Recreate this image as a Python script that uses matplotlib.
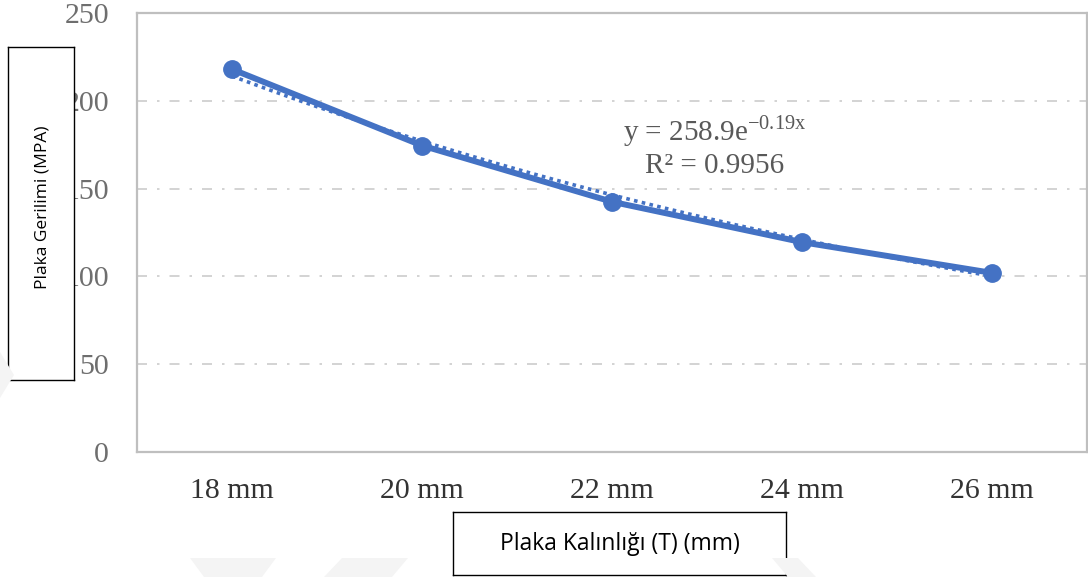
import numpy as np
import matplotlib.pyplot as plt
from matplotlib.patches import Polygon

plt.rcParams['mathtext.fontset'] = 'custom'
plt.rcParams['mathtext.rm'] = 'Liberation Serif'

# plate thickness categories and plate stress (MPa)
thickness_labels = ["18 mm", "20 mm", "22 mm", "24 mm", "26 mm"]
stress = [218, 174.5, 142.5, 119.5, 102]

# exponential trendline parameters y = a * exp(b * x)
trend_a = 258.9
trend_b = -0.19
trend_r2 = 0.9956

y_ticks = [0, 50, 100, 150, 200, 250]

W, H = 1088, 577
fig = plt.figure(figsize=(W / 100, H / 100), dpi=100)
fig.patch.set_facecolor("white")

def px(x, y):
    return (x / W, 1 - y / H)

# faint background shapes
shade = "#f4f4f4"
for pts in [
    [(0, 352), (14, 375), (0, 398)],
    [(190, 558), (276, 558), (262, 577), (204, 577)],
    [(342, 558), (408, 558), (392, 577), (324, 577)],
    [(772, 558), (798, 558), (816, 577), (788, 577)],
]:
    fig.patches.append(Polygon([px(*p) for p in pts], closed=True,
                               transform=fig.transFigure, facecolor=shade,
                               edgecolor="none", zorder=0))

ax = fig.add_axes([137 / W, 1 - 452 / H, 950 / W, 439 / H])
x = np.arange(len(stress))

for yv in y_ticks[1:-1]:
    ax.axhline(yv, color="#cccccc", lw=1.2, dashes=(6, 6, 1.5, 6), zorder=1)

xt = np.linspace(0, len(stress) - 1, 100)
ax.plot(xt, trend_a * np.exp(trend_b * (xt + 1)), color="#4472C4", lw=2.6,
        linestyle=(0, (1, 1.2)), zorder=2)
ax.plot(x, stress, color="#4472C4", lw=4.3, marker="o", markersize=12.5, zorder=3)

ax.set_xlim(-0.5, len(stress) - 0.5)
ax.set_ylim(0, 250)
ax.set_xticks(x)
ax.set_xticklabels(thickness_labels, family="Liberation Serif", fontsize=21.5,
                   color="#333333")
ax.set_yticks(y_ticks)
ax.set_yticklabels([str(v) for v in y_ticks], family="Liberation Serif",
                   fontsize=21.5, color="#6e6e6e")
ax.tick_params(length=0, axis="x", pad=19)
ax.tick_params(length=0, axis="y", pad=20)
for s in ax.spines.values():
    s.set_color("#bfbfbf")
    s.set_linewidth(1.6)

ax.text(2.54, 183, r"y = %.1fe$^{\mathrm{%.2fx}}$" % (trend_a, trend_b),
        family="Liberation Serif", fontsize=21, color="#595959", ha="center",
        va="center")
ax.text(2.54, 163, "R² = %.4f" % trend_r2, family="Liberation Serif",
        fontsize=21, color="#595959", ha="center", va="center")

# boxed axis titles
ylab = fig.add_axes([8 / W, 1 - 380 / H, 66 / W, 333 / H])
ylab.set_xticks([])
ylab.set_yticks([])
for s in ylab.spines.values():
    s.set_linewidth(1.0)
ylab.text(0.52, 0.52, "Plaka Gerilimi (MPA)", rotation=90, ha="center",
          va="center", family="Open Sans", fontsize=12.5, transform=ylab.transAxes)

xlab = fig.add_axes([453 / W, 1 - 575 / H, 333 / W, 63 / H])
xlab.set_xticks([])
xlab.set_yticks([])
for s in xlab.spines.values():
    s.set_linewidth(1.0)
xlab.text(0.5, 0.5, "Plaka Kalınlığı (T) (mm)", ha="center", va="center",
          family="Open Sans", fontsize=16.5, transform=xlab.transAxes)

fig.savefig("out.png", dpi=100)
